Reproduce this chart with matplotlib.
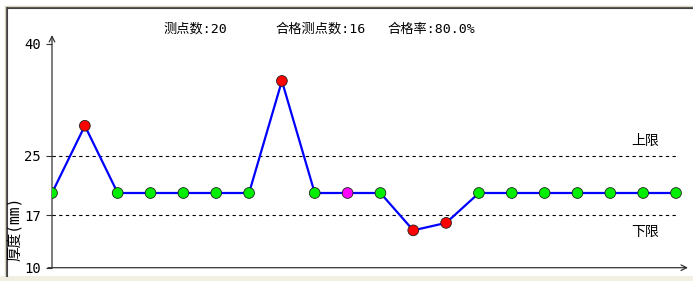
import matplotlib
matplotlib.use('Agg')
import matplotlib.pyplot as plt
from matplotlib.patches import Rectangle

# mono digits like the original bitmap font, CJK falls through to Noto
plt.rcParams['font.family'] = ['DejaVu Sans Mono', 'Noto Sans CJK SC']

# thickness readings for each measuring point
values = [20, 29, 20, 20, 20, 20, 20, 35, 20, 20, 20, 15, 16, 20, 20, 20, 20, 20, 20, 20]
colors = ['#00ee00', 'red', '#00ee00', '#00ee00', '#00ee00', '#00ee00', '#00ee00', 'red',
          '#00ee00', '#ff00ff', '#00ee00', 'red', 'red', '#00ee00', '#00ee00', '#00ee00',
          '#00ee00', '#00ee00', '#00ee00', '#00ee00']
upper, lower = 25, 17
yticks = [10, 17, 25, 40]
title_parts = ['测点数:20', '合格测点数:16', '合格率:80.0%']

W, H = 693, 281
fig = plt.figure(figsize=(W / 100, H / 100), dpi=100)

# window-like frame
fig.patches.append(Rectangle((0, 0), 1, 5 / H, transform=fig.transFigure,
                             facecolor='#f1efe2', edgecolor='none'))
fig.add_artist(plt.Line2D([7 / W, 1], [1 - 8 / H, 1 - 8 / H], color='#404040', lw=1.5))
fig.add_artist(plt.Line2D([7 / W, 1], [1 - 6 / H, 1 - 6 / H], color='#d8d4c0', lw=1))
fig.add_artist(plt.Line2D([7 / W, 7 / W], [5 / H, 1 - 8 / H], color='#404040', lw=1.5))
fig.add_artist(plt.Line2D([5 / W, 5 / W], [5 / H, 1 - 6 / H], color='#d8d4c0', lw=1))

x0, y0 = 52, 267.7
ax = fig.add_axes([x0 / W, (H - y0) / H, (688 - x0) / W, (y0 - 35) / H])
n = len(values)
xs = list(range(n))
step = (676 - 52) / (n - 1)
ax.set_xlim(0, (688 - 52) / step)
ax.set_ylim(10, 10 + (y0 - 35) / 7.47)
for s in ax.spines.values():
    s.set_visible(False)
ax.set_xticks([])
ax.set_yticks(yticks)
ax.tick_params(axis='y', length=4, width=0.8, color='#333333', labelsize=10, pad=4)

# axes with open arrows
ax.annotate('', xy=(0, 1.0), xytext=(0, 0), xycoords='axes fraction',
            arrowprops=dict(arrowstyle='->', color='#333333', lw=0.9, shrinkA=0, shrinkB=0))
ax.annotate('', xy=(1.0, 0), xytext=(-4 / (688 - x0), 0), xycoords='axes fraction',
            arrowprops=dict(arrowstyle='->', color='#333333', lw=0.9, shrinkA=0, shrinkB=0))

ax.hlines([upper, lower], 0, n - 1, colors='black', linestyles=(0, (3, 3)), lw=0.8)
lab_x = (631 - 52) / step
ax.text(lab_x, upper + 1.0, '上限', ha='left', va='bottom', fontsize=10)
ax.text(lab_x, lower - 1.3, '下限', ha='left', va='top', fontsize=10)

ax.plot(xs, values, color='#0000ff', lw=1.6, zorder=3)
ax.scatter(xs, values, s=60, c=colors, edgecolors='#222222', linewidths=0.6, zorder=4)

fig.text(163 / W, 1 - 29 / H, title_parts[0], ha='left', va='center', fontsize=9.5)
fig.text(275 / W, 1 - 29 / H, title_parts[1], ha='left', va='center', fontsize=9.5)
fig.text(387 / W, 1 - 29 / H, title_parts[2], ha='left', va='center', fontsize=9.5)

fig.text(15 / W, 1 - 229 / H, '厚度(mm)', rotation=90, ha='center', va='center', fontsize=10.5)

fig.savefig('out.png', dpi=100, facecolor='white')
